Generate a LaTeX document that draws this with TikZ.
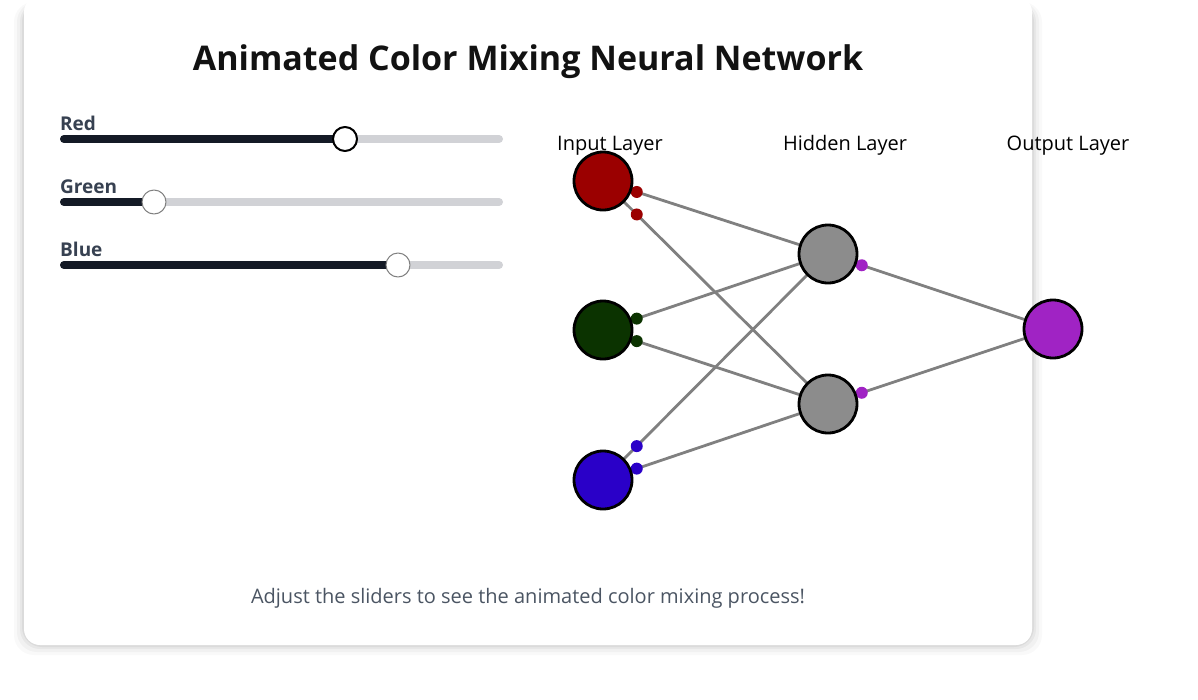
\documentclass[tikz,border=0pt]{standalone}
\usepackage{fontspec}
\setmainfont{Open Sans}
\usetikzlibrary{backgrounds}

\definecolor{inred}{RGB}{155,0,0}
\definecolor{ingreen}{RGB}{11,51,0}
\definecolor{inblue}{RGB}{42,0,200}
\definecolor{hidgray}{RGB}{140,140,140}
\definecolor{outpurple}{RGB}{160,35,196}
\definecolor{edgegray}{RGB}{128,128,128}
\definecolor{trackdark}{RGB}{20,26,38}
\definecolor{tracklight}{RGB}{209,210,214}
\definecolor{labelgray}{RGB}{55,65,81}
\definecolor{hintgray}{RGB}{75,85,99}

\tikzset{
  neuron/.style={circle,draw=black,line width=2.8pt,minimum size=58pt,inner sep=0pt},
  edge/.style={draw=edgegray,line width=2.8pt},
  pulse/.style={circle,inner sep=0pt,minimum size=12pt},
  track/.style={line width=8pt,tracklight},
  trackfill/.style={line width=8pt,trackdark},
  thumb/.style={circle,fill=white,draw=gray,line width=1pt,minimum size=24pt,inner sep=0pt},
  slidelabel/.style={anchor=base west,inner sep=0pt,text=labelgray,font=\fontsize{19}{23}\selectfont\bfseries},
  layerlabel/.style={anchor=base,font=\fontsize{20}{24}\selectfont}
}

\begin{document}
\begin{tikzpicture}[x=1pt,y=-1pt,line cap=round,line join=round]
\useasboundingbox (0,0) rectangle (1198,699);
\begin{pgfonlayer}{background}
\fill[white] (0,0) rectangle (1198,699);
% card with soft shadow
\foreach \s/\o in {10/0.025,7/0.03,4/0.04,2/0.05}
  \fill[black,opacity=\o,rounded corners=20] (24-\s,2) rectangle (1032+\s,645+\s);
\fill[white,rounded corners=16] (24,-4) rectangle (1032,645);
\end{pgfonlayer}

\node[font=\fontsize{34}{40}\selectfont\bfseries,text=black!93] (title) at (528,62) {Animated Color Mixing Neural Network};

% sliders
\foreach \name/\lab/\yy/\xx in {red/Red/139/345,green/Green/202/154,blue/Blue/265/398} {
  \node[slidelabel] (\name lab) at (60,\yy-9) {\lab};
  \draw[track] (64,\yy) -- (499,\yy);
  \draw[trackfill] (64,\yy) -- (\xx,\yy);
  \node[thumb] (\name thumb) at (\xx,\yy) {};
}
\node[thumb,draw=black,line width=2pt] at (redthumb) {};

% layers
\node[layerlabel] (inlab) at (610,150) {Input Layer};
\node[layerlabel] (hidlab) at (845,150) {Hidden Layer};
\node[layerlabel] (outlab) at (1068,150) {Output Layer};

\node[neuron,fill=inred] (in1) at (603,181) {};
\node[neuron,fill=ingreen] (in2) at (603,330) {};
\node[neuron,fill=inblue] (in3) at (603,480) {};
\node[neuron,fill=hidgray] (hid1) at (828,254) {};
\node[neuron,fill=hidgray] (hid2) at (828,404) {};
\node[neuron,fill=outpurple] (out) at (1053,329) {};

\begin{pgfonlayer}{background}
\foreach \a/\c in {in1/inred,in2/ingreen,in3/inblue}
  \foreach \b in {hid1,hid2}
    \draw[edge] (\a.center) -- (\b.center) node[pulse,fill=\c,pos=0.15] {};
\foreach \a in {hid1,hid2}
  \draw[edge] (\a.center) -- (out.center) node[pulse,fill=outpurple,pos=0.15] {};
\end{pgfonlayer}

\node[anchor=base,text=hintgray,font=\fontsize{20}{24}\selectfont] (hint) at (528,603) {Adjust the sliders to see the animated color mixing process!};
\end{tikzpicture}
\end{document}
